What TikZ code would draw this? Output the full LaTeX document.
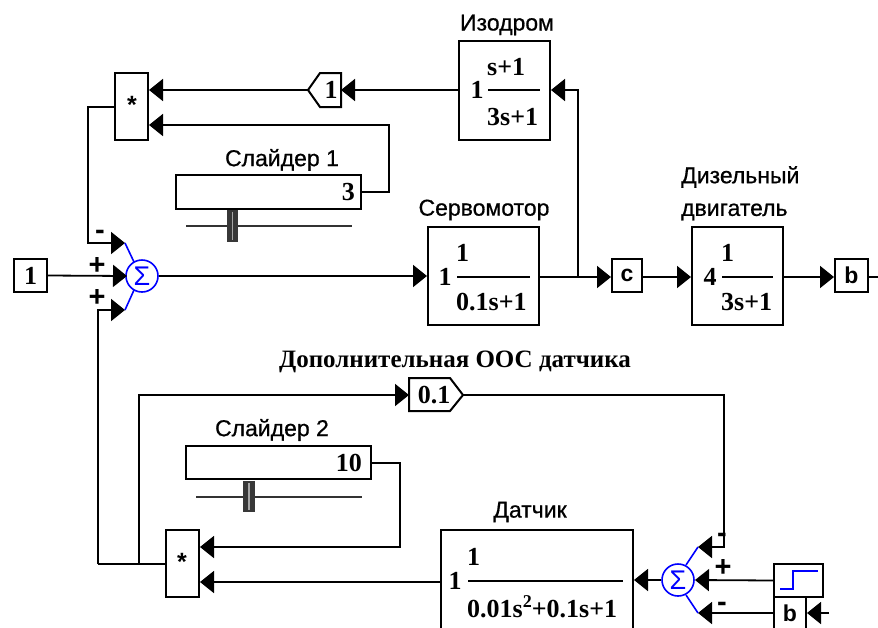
\documentclass[tikz,border=0pt]{standalone}
\usepackage{fontspec}
\setmainfont{Liberation Sans}
\newfontfamily\titlefont{Liberation Serif}
\newfontfamily\lblfont[FakeBold=0.7]{Liberation Sans}
\usetikzlibrary{arrows.meta}
\begin{document}
\begin{tikzpicture}[x=1pt,y=-1pt,
  blk/.style={draw, line width=2pt, inner sep=0pt, fill=white},
  pent/.style={draw, line width=2pt, fill=white, line join=miter},
  ln/.style={line width=1.8pt},
  arr/.style={ln, -{Triangle[length=14pt,width=22pt]}},
  lbl/.style={font=\lblfont\fontsize{23}{25}\selectfont, inner sep=0pt},
  num/.style={font=\titlefont\bfseries\fontsize{26}{28}\selectfont, inner sep=0pt},
  sumc/.style={draw=blue, line width=1.6pt, circle, minimum size=32pt, inner sep=0pt, text=blue, font=\fontsize{27}{27}\selectfont},
  bl/.style={draw=blue, line width=1.6pt},
  sgn/.style={font=\bfseries\fontsize{29}{29}\selectfont, inner sep=0pt},
  star/.style={font=\bfseries\fontsize{25}{25}\selectfont, inner sep=0pt},
  bar/.style={line width=2pt},
  track/.style={line width=1.6pt, black!80},
  thumb/.style={fill=black!78, draw=none}
]
\useasboundingbox (0,0) rectangle (878,627);
\clip (0,0) rectangle (878,627);

% ---------- top row ----------
\node[blk, minimum width=33pt, minimum height=33pt, num] (in1) at (30.5,275.5) {1};
\node[sumc] (sum1) at (142,276) {Σ};
\node[blk, minimum width=33pt, minimum height=67pt] (mult1) at (131.5,106.5) {};
\node[star] (st1) at (132,105) {*};

% gain 1 (pointing left)
\draw[pent] (308,90) -- (320,73) -- (341,73) -- (341,107) -- (320,107) -- cycle;
\coordinate (g1e) at (341,90);
\coordinate (g1w) at (308,90);
\node[num] (g1) at (331,90) {1};

% Izodrom
\node[lbl] (izoL) at (507,25) {Изодром};
\node[blk, minimum width=91pt, minimum height=99pt] (izo) at (504.5,90.5) {};
\node[num] (izoK) at (477,90) {1};
\draw[bar] (488,90) -- (540,90);
\node[num, anchor=west] (izoN) at (487,67) {s+1};
\node[num, anchor=west] (izoD) at (487,117) {3s+1};

% Slider 1
\node[lbl] (s1L) at (282,160) {Слайдер 1};
\node[blk, minimum width=185pt, minimum height=34pt] (s1) at (268.5,192) {};
\node[num, anchor=east] (s1v) at (355,192) {3};
\draw[track] (186,226) -- (352,226);
\fill[thumb] (227,210) rectangle (238,242);
\draw[line width=1.5pt, black!35] (232.5,212) -- (232.5,240);

% Servomotor
\node[lbl] (servoL) at (484,210) {Сервомотор};
\node[blk, minimum width=111pt, minimum height=98pt] (servo) at (483.5,276) {};
\node[num] (servoK) at (445,277) {1};
\draw[bar] (457,277) -- (530,277);
\node[num, anchor=west] (servoN) at (456,253) {1};
\node[num, anchor=west] (servoD) at (456,302) {0.1s+1};

% c box
\node[blk, minimum width=30pt, minimum height=33pt, font=\bfseries\fontsize{23}{23}\selectfont] (cb) at (627,275.5) {c};

% Diesel
\node[lbl, anchor=west] (dL1) at (681,177) {Дизельный};
\node[lbl, anchor=west] (dL2) at (681,212) {двигатель};
\node[blk, minimum width=91pt, minimum height=98pt] (diesel) at (737.5,276) {};
\node[num] (dK) at (710,277) {4};
\draw[bar] (722,277) -- (773,277);
\node[num, anchor=west] (dN) at (721,253) {1};
\node[num, anchor=west] (dD) at (721,302) {3s+1};

% b box
\node[blk, minimum width=33pt, minimum height=33pt, font=\bfseries\fontsize{23}{23}\selectfont] (bb) at (851.5,275.5) {b};

% signs at sum 1
\node[sgn] at (100,235) {-};
\node[sgn] at (97,266) {+};
\node[sgn] at (97,298) {+};

% ---------- connectors top ----------
\coordinate (s1t) at (125,243);
\coordinate (s1m) at (127,276);
\coordinate (s1b) at (125,310);
\draw[arr] (in1.east) -- (s1m);
\draw[arr] (mult1.west |- 0,107) -- (88,107) -- (88,243) -- (s1t);
\draw[arr] (98,564) -- (98,310) -- (s1b);
\draw[bl] (s1t) -- (134,262);
\draw[bl] (s1b) -- (134,290);
\draw[arr] (sum1.east) -- (servo.west |- sum1.east);
\draw[arr] (servo.east |- 0,277) -- (cb.west |- 0,277);
\coordinate (br) at (578,277);
\draw[arr] (br) -- (578,90) -- (izo.east |- 0,90);
\draw[arr] (izo.west |- 0,90) -- (g1e);
\draw[arr] (g1w) -- (mult1.east |- 0,90);
\draw[arr] (s1.east |- 0,192) -- (389,192) -- (389,125) -- (mult1.east |- 0,125);
\draw[arr] (cb.east |- 0,277) -- (diesel.west |- 0,277);
\draw[arr] (diesel.east |- 0,277) -- (bb.west |- 0,277);
\draw[ln] (bb.east |- 0,277) -- (878,277);

% ---------- bottom part ----------
\node[font=\titlefont\bfseries\fontsize{25}{26}\selectfont, inner sep=0pt] (addL) at (455,362) {Дополнительная ООС датчика};
\draw[pent] (409,378) -- (450,378) -- (463,395) -- (450,411) -- (409,411) -- cycle;
\coordinate (g2w) at (409,395);
\coordinate (g2e) at (463,395);
\node[num] (g2) at (434,395) {0.1};

% Slider 2
\node[lbl] (s2L) at (272,430) {Слайдер 2};
\node[blk, minimum width=185pt, minimum height=33pt] (s2) at (278.5,462.5) {};
\node[num, anchor=east] (s2v) at (362,463) {10};
\draw[track] (196,497) -- (362,497);
\fill[thumb] (243,481) rectangle (255,512);
\draw[line width=1.5pt, black!35] (249,483) -- (249,510);

% multiplier 2
\node[blk, minimum width=33pt, minimum height=67pt] (mult2) at (182.5,563.5) {};
\node[star] (st2) at (182,562) {*};

% Datchik
\node[lbl] (datL) at (530,512) {Датчик};
\node[blk, minimum width=192pt, minimum height=102pt] (dat) at (537,581) {};
\node[num] (datK) at (455,581) {1};
\draw[bar] (468,581) -- (623,581);
\node[num, anchor=west] (datN) at (467,557) {1};
\node[num, anchor=west] (datD) at (467,607) {0.01s\raisebox{0.4em}{\fontsize{18}{18}\selectfont 2}+0.1s+1};

% sum 2
\node[sumc] (sum2) at (678,580) {Σ};
\node[sgn] at (722,538) {-};
\node[sgn] at (723,568) {+};
\node[sgn] at (722,607) {-};

% step block
\node[blk, minimum width=49pt, minimum height=33pt] (step) at (798.5,580.5) {};
\draw[line width=2pt, blue] (780,589) -- (793,589) -- (793,571) -- (818,571);

% b box 2
\node[blk, minimum width=32pt, minimum height=33pt, font=\bfseries\fontsize{23}{23}\selectfont] (b2) at (790,613.5) {b};

% ---------- connectors bottom ----------
\coordinate (j1) at (98,564);
\coordinate (j2) at (139,564);
\draw[ln] (mult2.west |- 0,564) -- (j1);
\draw[arr] (j2) -- (139,395) -- (g2w);
\coordinate (t2) at (698,547);
\coordinate (m2) at (695,580);
\coordinate (b2t) at (698,613);
\draw[arr] (g2e) -- (724,395) -- (724,547) -- (t2);
\draw[arr] (step.west) -- (m2);
\draw[arr] (b2.west |- 0,613) -- (b2t);
\draw[bl] (t2) -- (686,565);
\draw[bl] (b2t) -- (686,595);
\draw[arr] (829,613) -- (b2.east |- 0,613);
\draw[arr] (sum2.west) -- (dat.east |- sum2.west);
\draw[arr] (dat.west |- 0,582) -- (mult2.east |- 0,582);
\draw[arr] (s2.east |- 0,463) -- (400,463) -- (400,547) -- (mult2.east |- 0,547);
\end{tikzpicture}
\end{document}
